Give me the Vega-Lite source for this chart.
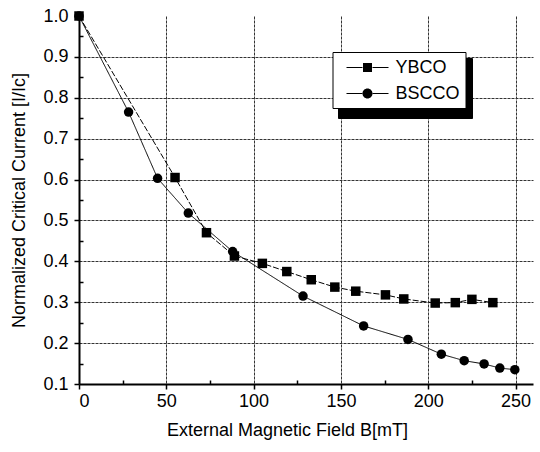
{
  "$schema": "https://vega.github.io/schema/vega-lite/v6.json",
  "width": 454,
  "height": 368,
  "autosize": "none",
  "padding": {"left": 79, "top": 16, "right": 7, "bottom": 68},
  "background": "white",
  "config": {
    "font": "Liberation Sans",
    "view": {"stroke": null},
    "axis": {"labelFont": "Liberation Sans", "titleFont": "Liberation Sans", "labelColor": "black", "titleColor": "black", "titleFontWeight": "normal"}
  },
  "data": {
    "values": [
      {"B": 0, "Ic": 1.0, "material": "YBCO"},
      {"B": 55, "Ic": 0.605, "material": "YBCO"},
      {"B": 73, "Ic": 0.47, "material": "YBCO"},
      {"B": 89, "Ic": 0.413, "material": "YBCO"},
      {"B": 105, "Ic": 0.395, "material": "YBCO"},
      {"B": 119, "Ic": 0.375, "material": "YBCO"},
      {"B": 133, "Ic": 0.355, "material": "YBCO"},
      {"B": 146.5, "Ic": 0.337, "material": "YBCO"},
      {"B": 158.5, "Ic": 0.327, "material": "YBCO"},
      {"B": 175.5, "Ic": 0.318, "material": "YBCO"},
      {"B": 186, "Ic": 0.308, "material": "YBCO"},
      {"B": 204, "Ic": 0.298, "material": "YBCO"},
      {"B": 215.5, "Ic": 0.299, "material": "YBCO"},
      {"B": 225, "Ic": 0.307, "material": "YBCO"},
      {"B": 237, "Ic": 0.299, "material": "YBCO"},
      {"B": 0, "Ic": 1.0, "material": "BSCCO"},
      {"B": 28.4, "Ic": 0.765, "material": "BSCCO"},
      {"B": 45, "Ic": 0.603, "material": "BSCCO"},
      {"B": 62.6, "Ic": 0.518, "material": "BSCCO"},
      {"B": 88, "Ic": 0.424, "material": "BSCCO"},
      {"B": 128.3, "Ic": 0.315, "material": "BSCCO"},
      {"B": 163, "Ic": 0.242, "material": "BSCCO"},
      {"B": 188.4, "Ic": 0.209, "material": "BSCCO"},
      {"B": 207.5, "Ic": 0.173, "material": "BSCCO"},
      {"B": 220.6, "Ic": 0.157, "material": "BSCCO"},
      {"B": 232, "Ic": 0.149, "material": "BSCCO"},
      {"B": 241, "Ic": 0.139, "material": "BSCCO"},
      {"B": 249.6, "Ic": 0.135, "material": "BSCCO"}
    ]
  },
  "resolve": {"scale": {"shape": "independent"}, "axis": {"x": "independent", "y": "independent"}},
  "layer": [
    {
      "transform": [{"filter": "datum.B >= 0"}],
      "mark": {"type": "line", "strokeWidth": 1, "clip": true},
      "encoding": {
        "x": {
          "field": "B", "type": "quantitative",
          "scale": {"domain": [0, 260], "nice": false},
          "axis": {"orient": "bottom", "values": [25, 75, 125, 175, 225], "labels": false, "domain": false, "grid": false, "tickSize": -4, "tickWidth": 1.5, "tickColor": "black", "title": null}
        },
        "y": {
          "field": "Ic", "type": "quantitative",
          "scale": {"domain": [0.1, 1.0], "nice": false, "zero": false},
          "axis": {"orient": "left", "values": [0.15, 0.25, 0.35, 0.45, 0.55, 0.65, 0.75, 0.85, 0.95], "labels": false, "domain": false, "grid": false, "tickSize": -4, "tickWidth": 1.5, "tickColor": "black", "title": null}
        },
        "strokeDash": {
          "field": "material", "type": "nominal", "sort": "descending",
          "scale": {"range": [[6, 2], [1, 0]]},
          "legend": null
        },
        "color": {
          "field": "material", "type": "nominal", "sort": "descending",
          "scale": {"range": ["black", "black"]},
          "legend": {
            "orient": "none", "legendX": 259, "legendY": 42, "zindex": 0,
            "title": null, "fillColor": "black", "strokeColor": "black",
            "padding": 5, "rowPadding": 6, "symbolOffset": 19.5, "labelOffset": 84.8,
            "symbolSize": 278, "labelFontSize": 18, "labelFont": "Liberation Sans", "labelColor": "black",
            "labelExpr": "''",
            "symbolType": "square", "symbolFillColor": "black", "symbolStrokeColor": "black"
          }
        }
      }
    },
    {
      "mark": {"type": "point", "filled": true, "size": 90, "opacity": 1, "color": "black"},
      "encoding": {
        "x": {
          "field": "B", "type": "quantitative",
          "axis": {
            "orient": "bottom", "values": [0, 50, 100, 150, 200, 250], "format": "d",
            "labelFontSize": 18, "labelPadding": 3, "tickSize": 5, "tickWidth": 1.5, "tickColor": "black",
            "domain": true, "domainWidth": 2, "domainColor": "black",
            "grid": true, "gridColor": "#333", "gridDash": [3, 1], "gridWidth": 1,
            "title": "External Magnetic Field B[mT]", "titleFontSize": 18, "titlePadding": 11, "titleX": 208
          }
        },
        "y": {
          "field": "Ic", "type": "quantitative",
          "axis": {
            "orient": "left", "values": [0.1, 0.2, 0.3, 0.4, 0.5, 0.6, 0.7, 0.8, 0.9, 1.0], "format": ".1f",
            "labelFontSize": 18, "labelPadding": 6, "tickSize": 5, "tickWidth": 1.5, "tickColor": "black",
            "domain": true, "domainWidth": 2, "domainColor": "black",
            "grid": true, "gridDash": [3, 1], "gridWidth": 1,
            "gridColor": {"condition": {"test": "datum.value >= 0.99 || datum.value <= 0.11", "value": "transparent"}, "value": "#333"},
            "title": "Normalized Critical Current [I/Ic]", "titleFontSize": 18, "titlePadding": 14
          }
        },
        "shape": {
          "field": "material", "type": "nominal", "sort": "descending",
          "scale": {"range": ["square", "circle"]},
          "legend": null
        }
      }
    },
    {
      "mark": {"type": "point", "filled": true, "size": 90, "opacity": 0, "color": "black"},
      "encoding": {
        "x": {"field": "B", "type": "quantitative", "axis": null},
        "y": {"field": "Ic", "type": "quantitative", "axis": null},
        "shape": {
          "field": "material", "type": "nominal", "sort": "descending",
          "scale": {"range": [
            "M-2.1,-0.06L-0.5,-0.06L-0.5,0.06L-2.1,0.06ZM0.5,-0.06L2.1,-0.06L2.1,0.06L0.5,0.06ZM-0.45,-0.45L0.45,-0.45L0.45,0.45L-0.45,0.45Z",
            "M-2.1,-0.06L-0.52,-0.06L-0.52,0.06L-2.1,0.06ZM0.52,-0.06L2.1,-0.06L2.1,0.06L0.52,0.06ZM-0.5,0A0.5,0.5,0,1,0,0.5,0A0.5,0.5,0,1,0,-0.5,0Z"
          ]},
          "legend": {
            "orient": "none", "legendX": 253.5, "legendY": 36, "zindex": 1,
            "title": null, "fillColor": "white", "strokeColor": "black",
            "padding": 5, "rowPadding": 6, "symbolOffset": 19.5, "labelOffset": 17.5,
            "symbolSize": 400, "labelFontSize": 18, "labelFont": "Liberation Sans", "labelColor": "black",
            "symbolOpacity": 1, "symbolFillColor": "black", "symbolStrokeColor": "black", "symbolStrokeWidth": 1
          }
        }
      }
    }
  ]
}
